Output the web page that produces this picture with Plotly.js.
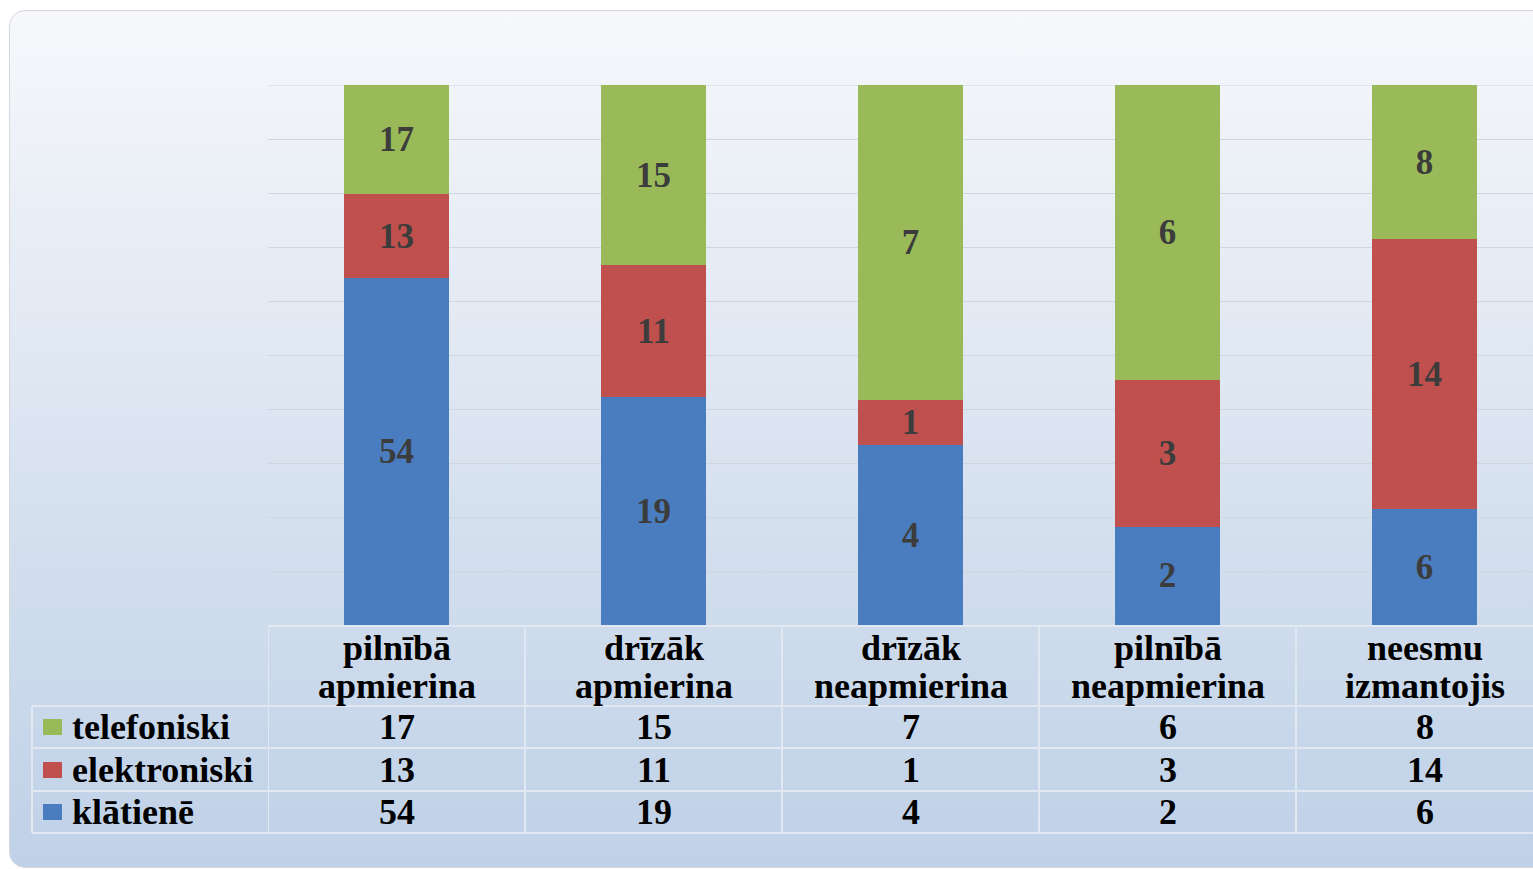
<!DOCTYPE html>
<html>
<head>
<meta charset="utf-8">
<script src="https://cdn.plot.ly/plotly-3.0.1.min.js"></script>
<style>
  html, body { margin:0; padding:0; background:#ffffff; overflow:hidden; }
  #bg { position:absolute; left:9px; top:10px; width:1600px; height:856px;
        border:1px solid #d6d8dc; border-radius:16px;
        background: linear-gradient(to bottom, #f6f8fb 0%, #e3eaf4 35%, #cfdcec 70%, #bfd1e8 100%); }
  #chart { position:absolute; left:0; top:0; width:1533px; height:869px; }
</style>
</head>
<body>
<div id="bg"></div>
<div id="chart"></div>
<script>
const categories = ['pilnībā apmierina','drīzāk apmierina','drīzāk neapmierina','pilnībā neapmierina','neesmu izmantojis'];
const headerLine1 = ['pilnībā','drīzāk','drīzāk','pilnībā','neesmu'];
const headerLine2 = ['apmierina','apmierina','neapmierina','neapmierina','izmantojis'];
const seriesNames = ['klātienē','elektroniski','telefoniski'];
const klatiene = [54,19,4,2,6];
const elektroniski = [13,11,1,3,14];
const telefoniski = [17,15,7,6,8];
const seriesColors = ['#4a7dbf','#c0504d','#9aba59'];

const W = 1533, H = 869;
const L = 268, T = 85, B = 625;
const PW = W - L, PH = B - T;
const colW = 257;
const px2x = px => (px - L) / PW;
const py2y = py => (B - py) / PH;

const FONT = 'Liberation Serif, Times New Roman, serif';
const FS = 36;

const seriesData = [klatiene, elektroniski, telefoniski];
const traces = seriesData.map((vals, i) => ({
  type: 'bar',
  name: seriesNames[i],
  x: categories,
  y: vals,
  text: vals.map(String),
  textposition: 'inside',
  insidetextanchor: 'middle',
  constraintext: 'none',
  textangle: 0,
  textfont: { family: FONT, size: 35, color: '#3c3c3c', weight: 'bold' },
  marker: { color: seriesColors[i], line: { width: 0 } },
  hoverinfo: 'skip',
  showlegend: false
}));

const shapes = [];
const annotations = [];
const lineColor = '#e2e8f1';

// top gridline
shapes.push({ type:'line', xref:'paper', yref:'y', x0:0, x1:1, y0:100, y1:100, line:{color:'#cfd6e0', width:1}, layer:'below' });

// table horizontal lines
shapes.push({ type:'line', xref:'paper', yref:'paper', x0:0, x1:px2x(W+50), y0:py2y(626), y1:py2y(626), line:{color:lineColor, width:2} });
[706, 748, 791, 833].forEach(py => {
  shapes.push({ type:'line', xref:'paper', yref:'paper', x0:px2x(32), x1:px2x(W+50), y0:py2y(py), y1:py2y(py), line:{color:lineColor, width:2} });
});
// vertical lines
shapes.push({ type:'line', xref:'paper', yref:'paper', x0:px2x(32), x1:px2x(32), y0:py2y(706), y1:py2y(833), line:{color:lineColor, width:2} });
for (let k = 0; k <= categories.length; k++) {
  shapes.push({ type:'line', xref:'x', yref:'paper', x0:k-0.5, x1:k-0.5, y0:py2y(626), y1:py2y(833), line:{color:lineColor, width:2} });
}

// header labels
categories.forEach((c, i) => {
  annotations.push({ xref:'x', yref:'paper', x:i, y:py2y(648), text:headerLine1[i], showarrow:false,
    xanchor:'center', yanchor:'middle', font:{family:FONT, size:FS, color:'#000', weight:'bold'} });
  annotations.push({ xref:'x', yref:'paper', x:i, y:py2y(686), text:headerLine2[i], showarrow:false,
    xanchor:'center', yanchor:'middle', font:{family:FONT, size:FS, color:'#000', weight:'bold'} });
});

// table rows: telefoniski, elektroniski, klātienē
const rowOrder = [2, 1, 0];
const rowCenters = [727, 770, 812];
rowOrder.forEach((si, r) => {
  const cy = rowCenters[r];
  shapes.push({ type:'rect', xref:'paper', yref:'paper', x0:px2x(43), x1:px2x(62), y0:py2y(cy-8), y1:py2y(cy+8),
    fillcolor:seriesColors[si], line:{width:0} });
  annotations.push({ xref:'paper', yref:'paper', x:px2x(70), y:py2y(cy), text:seriesNames[si], showarrow:false,
    xanchor:'left', yanchor:'middle', font:{family:FONT, size:FS, color:'#000', weight:'bold'} });
  seriesData[si].forEach((v, i) => {
    annotations.push({ xref:'x', yref:'paper', x:i, y:py2y(cy), text:String(v), showarrow:false,
      xanchor:'center', yanchor:'middle', font:{family:FONT, size:FS, color:'#000', weight:'bold'} });
  });
});

const layout = {
  width: W, height: H,
  margin: { l: L, r: 0, t: T, b: H - B, pad: 0 },
  paper_bgcolor: 'rgba(0,0,0,0)',
  plot_bgcolor: 'rgba(0,0,0,0)',
  barmode: 'stack',
  barnorm: 'percent',
  bargap: 0.59,
  xaxis: { type:'category', range:[-0.5, -0.5 + PW/colW], showticklabels:false, showgrid:false, zeroline:false, showline:false, ticks:'', fixedrange:true },
  yaxis: { range:[0,100], dtick:10, showticklabels:false, showgrid:true, gridcolor:'#cfd6e0', gridwidth:1, zeroline:false, showline:false, ticks:'', fixedrange:true },
  shapes: shapes,
  annotations: annotations,
  font: { family: FONT }
};

Plotly.newPlot('chart', traces, layout, { displayModeBar:false, staticPlot:true });
</script>
</body>
</html>
